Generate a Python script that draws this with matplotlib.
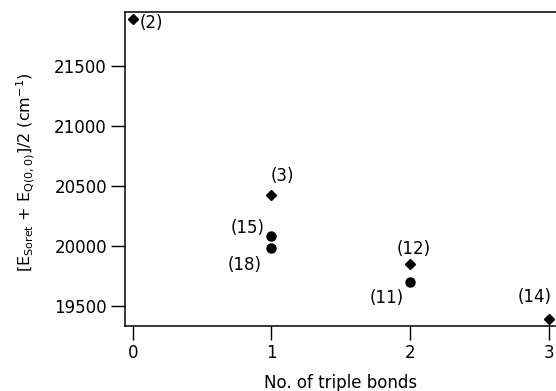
import matplotlib
matplotlib.use("Agg")
import matplotlib.pyplot as plt

plt.rcParams['font.family'] = ['DejaVu Sans']
plt.rcParams['mathtext.fontset'] = 'dejavusans'

# Diamond series
dia_x = [0, 1, 2, 3]
dia_y = [21890, 20420, 19845, 19390]
dia_labels = ['(2)', '(3)', '(12)', '(14)']
# Circle series
cir_x = [1, 1, 2]
cir_y = [20080, 19980, 19700]
cir_labels = ['(15)', '(18)', '(11)']

xticks = [0, 1, 2, 3]
yticks = [19500, 20000, 20500, 21000, 21500]

fig = plt.figure(figsize=(5.56, 3.91), dpi=100)
ax = fig.add_axes([125/556, 1-325.7/391, 431/556, (325.7-12)/391])

ax.plot(dia_x, dia_y, linestyle='none', marker='D', ms=4.6, color='black')
ax.plot(cir_x, cir_y, linestyle='none', marker='o', ms=6.5, color='black')

dia_off = [(19, -4), (11, 19), (4, 15.5), (-14, 21.5)]
cir_off = [(-24, 8), (-26.5, -17), (-23.6, -16.5)]
for x, y, t, o in zip(dia_x, dia_y, dia_labels, dia_off):
    ax.annotate(t, (x, y), xytext=o, textcoords='offset pixels',
                ha='center', va='center', fontsize=12)
for x, y, t, o in zip(cir_x, cir_y, cir_labels, cir_off):
    ax.annotate(t, (x, y), xytext=o, textcoords='offset pixels',
                ha='center', va='center', fontsize=12)

ax.set_xlim(-0.0556, 3.054)
ax.set_ylim(19333, 21947)
ax.set_xticks(xticks)
ax.set_yticks(yticks)
ax.tick_params(axis='both', direction='out', length=10, width=1.0,
               labelsize=12, pad=3)
ax.spines['right'].set_visible(False)
for s in ['left', 'top', 'bottom']:
    ax.spines[s].set_linewidth(1.1)

ax.set_xlabel('No. of triple bonds', fontsize=12)
ax.xaxis.set_label_coords(0.5, -0.153)
ax.xaxis.label.set_va('top')
ax.set_ylabel(r'[E$_{\mathrm{Soret}}$ + E$_{\mathrm{Q(0,0)}}$]/2 (cm$^{-1}$)', fontsize=11.5)
ax.yaxis.set_label_coords(-0.205, 0.49)

fig.savefig('out.png', dpi=100)
